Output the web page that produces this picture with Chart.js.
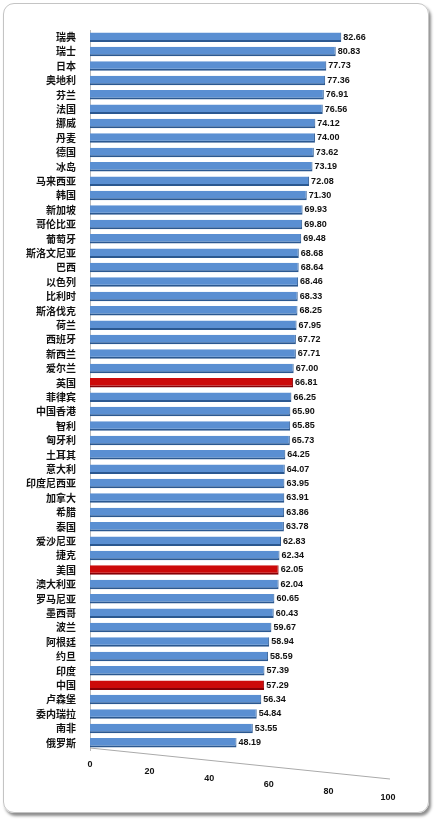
<!DOCTYPE html>
<html>
<head>
<meta charset="utf-8">
<script src="https://cdn.jsdelivr.net/npm/chart.js@4"></script>
<style>
  body { margin: 0; background: #fff; }
  #wrap { position: relative; width: 437px; height: 824px; }
  #frame { position: absolute; left: 3px; top: 3px; width: 424px; height: 808px;
           border: 1px solid #c4c4c4; border-radius: 11px; box-shadow: 2px 3px 3px rgba(0,0,0,0.45); }
  #c { position: absolute; left: 0; top: 0; }
</style>
</head>
<body>
<div id="wrap">
  <div id="frame"></div>
  <canvas id="c" width="437" height="824"></canvas>
</div>
<script>
// dados
const paises = ['瑞典', '瑞士', '日本', '奥地利', '芬兰', '法国', '挪威', '丹麦', '德国', '冰岛',
  '马来西亚', '韩国', '新加坡', '哥伦比亚', '葡萄牙', '斯洛文尼亚', '巴西', '以色列', '比利时', '斯洛伐克',
  '荷兰', '西班牙', '新西兰', '爱尔兰', '英国', '菲律宾', '中国香港', '智利', '匈牙利', '土耳其',
  '意大利', '印度尼西亚', '加拿大', '希腊', '泰国', '爱沙尼亚', '捷克', '美国', '澳大利亚', '罗马尼亚',
  '墨西哥', '波兰', '阿根廷', '约旦', '印度', '中国', '卢森堡', '委内瑞拉', '南非', '俄罗斯'];
const valores = [82.66, 80.83, 77.73, 77.36, 76.91, 76.56, 74.12, 74.00, 73.62, 73.19,
  72.08, 71.30, 69.93, 69.80, 69.48, 68.68, 68.64, 68.46, 68.33, 68.25,
  67.95, 67.72, 67.71, 67.00, 66.81, 66.25, 65.90, 65.85, 65.73, 64.25,
  64.07, 63.95, 63.91, 63.86, 63.78, 62.83, 62.34, 62.05, 62.04, 60.65,
  60.43, 59.67, 58.94, 58.59, 57.39, 57.29, 56.34, 54.84, 53.55, 48.19];
const destaque = ['英国', '美国', '中国'];
const ticksX = [0, 20, 40, 60, 80, 100];

const cores = paises.map(p => destaque.includes(p) ? '#cc0a0a' : '#5a8fd2');
const bordas = paises.map(p => destaque.includes(p) ? '#850006' : '#2b5890');

// rótulos de valor
const rotulos = {
  id: 'rotulos',
  afterDatasetsDraw(chart) {
    const c = chart.ctx;
    c.save();
    c.font = 'bold 9px "Liberation Sans", Arial, sans-serif';
    c.fillStyle = '#111';
    c.textBaseline = 'middle';
    chart.getDatasetMeta(0).data.forEach((bar, i) => {
      c.fillText(valores[i].toFixed(2), bar.x + 2, bar.y);
    });
    c.restore();
  }
};

// eixo x inclinado
const eixoX = {
  id: 'eixoX',
  afterDraw(chart) {
    const c = chart.ctx;
    const x = chart.scales.x;
    const base = chart.chartArea.bottom;
    c.save();
    c.strokeStyle = '#aaa';
    c.lineWidth = 1;
    c.beginPath();
    c.moveTo(x.getPixelForValue(0), base - 2);
    c.lineTo(x.getPixelForValue(100) - 4, base + 29);
    c.stroke();
    c.font = 'bold 9px "Liberation Sans", Arial, sans-serif';
    c.fillStyle = '#111';
    c.textAlign = 'center';
    c.textBaseline = 'middle';
    ticksX.forEach(v => {
      c.fillText(String(v), x.getPixelForValue(v) - v * 0.06, base + 15 + v * 0.33);
    });
    c.restore();
  }
};

new Chart(document.getElementById('c').getContext('2d'), {
  type: 'bar',
  data: {
    labels: paises,
    datasets: [{
      data: valores,
      backgroundColor: cores,
      borderColor: bordas,
      borderWidth: { bottom: 2, right: 1 },
      borderSkipped: false,
      categoryPercentage: 1,
      barPercentage: 0.66
    }]
  },
  options: {
    indexAxis: 'y',
    responsive: false,
    animation: false,
    layout: { padding: { top: 30, right: 43, bottom: 74, left: 0 } },
    plugins: { legend: { display: false }, tooltip: { enabled: false } },
    scales: {
      x: { display: false, min: 0, max: 100 },
      y: {
        afterFit(s) { s.width = 90; },
        grid: { display: false },
        border: { display: true, color: '#bbb' },
        ticks: {
          color: '#111',
          padding: 6,
          autoSkip: false,
          font: { family: '"Noto Sans CJK SC", sans-serif', size: 10, weight: 'bold' }
        }
      }
    }
  },
  plugins: [rotulos, eixoX]
});
</script>
</body>
</html>
